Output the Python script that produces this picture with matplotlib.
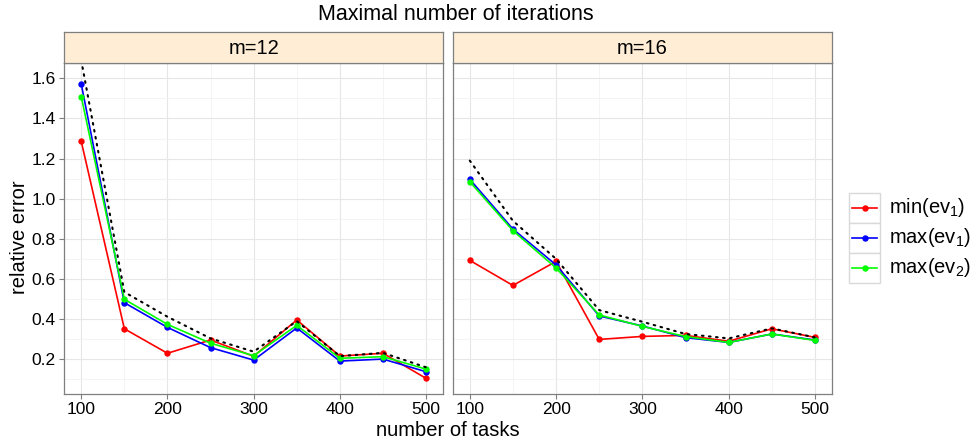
import matplotlib
matplotlib.use("Agg")
import matplotlib.pyplot as plt
from matplotlib.patches import Rectangle
from matplotlib.lines import Line2D

plt.rcParams['font.family'] = ['Liberation Sans', 'DejaVu Sans']
plt.rcParams['mathtext.fontset'] = 'custom'
plt.rcParams['mathtext.rm'] = 'Liberation Sans'
plt.rcParams['mathtext.it'] = 'Liberation Sans:italic'

# number of tasks on the x axis
tasks = [100, 150, 200, 250, 300, 350, 400, 450, 500]
panels = ["m=12", "m=16"]

# relative error, m=12
m12_min_ev1 = [1.286, 0.352, 0.230, 0.296, 0.215, 0.396, 0.216, 0.230, 0.105]
m12_max_ev1 = [1.572, 0.482, 0.359, 0.258, 0.196, 0.356, 0.191, 0.201, 0.138]
m12_max_ev2 = [1.509, 0.499, 0.374, 0.280, 0.218, 0.369, 0.205, 0.213, 0.151]
m12_bound = [1.69, 0.535, 0.412, 0.304, 0.238, 0.390, 0.216, 0.232, 0.160]

# relative error, m=16
m16_min_ev1 = [0.693, 0.568, 0.688, 0.299, 0.314, 0.319, 0.290, 0.352, 0.309]
m16_max_ev1 = [1.097, 0.849, 0.670, 0.416, 0.366, 0.308, 0.284, 0.326, 0.296]
m16_max_ev2 = [1.085, 0.841, 0.655, 0.421, 0.364, 0.313, 0.284, 0.326, 0.294]
m16_bound = [1.19, 0.89, 0.70, 0.445, 0.387, 0.326, 0.304, 0.354, 0.309]

series_labels = [r"min(ev$_1$)", r"max(ev$_1$)", r"max(ev$_2$)"]
series_colors = ["#FF0000", "#0000FF", "#00FF00"]

panel_data = [
    (m12_min_ev1, m12_max_ev1, m12_max_ev2, m12_bound),
    (m16_min_ev1, m16_max_ev1, m16_max_ev2, m16_bound),
]

W, H = 975, 443
fig = plt.figure(figsize=(W / 100, H / 100), dpi=100)


def fbox(x0, y0, x1, y1):
    # pixel box (top-left origin) -> figure fraction [l, b, w, h]
    return [x0 / W, (H - y1) / H, (x1 - x0) / W, (y1 - y0) / H]


panel_px = [(64, 443.3), (452.5, 832.3)]
top_px, bot_px, strip_top = 62.7, 394.0, 31.7
border = "#7F7F7F"

axes = []
for i, ((x0, x1), name, data) in enumerate(zip(panel_px, panels, panel_data)):
    ax = fig.add_axes(fbox(x0, top_px, x1, bot_px))
    axes.append(ax)
    ax.set_xlim(80, 520)
    ax.set_ylim(0.027, 1.678)
    ax.set_xticks([100, 200, 300, 400, 500])
    ax.set_xticks([150, 250, 350, 450], minor=True)
    ax.set_yticks([0.2, 0.4, 0.6, 0.8, 1.0, 1.2, 1.4, 1.6])
    ax.set_yticks([0.1, 0.3, 0.5, 0.7, 0.9, 1.1, 1.3, 1.5], minor=True)
    ax.grid(which="major", color="#E6E6E6", lw=0.8)
    ax.grid(which="minor", color="#F3F3F3", lw=0.6)
    ax.set_axisbelow(True)
    for s in ax.spines.values():
        s.set_color(border)
        s.set_linewidth(0.9)
    ax.tick_params(which="major", length=3.5, width=0.8, color=border,
                   labelsize=12.5, labelcolor="black", pad=2.5)
    ax.tick_params(which="minor", length=0)
    if i == 1:
        ax.tick_params(axis="y", which="both", left=False, labelleft=False)
    else:
        ax.set_yticklabels(["0.2", "0.4", "0.6", "0.8", "1.0", "1.2", "1.4", "1.6"])

    for vals, col in zip(data[:3], series_colors):
        ax.plot(tasks, vals, color=col, lw=1.2, marker="o", ms=4.6,
                markeredgewidth=0, zorder=3)
    ax.plot(tasks, data[3], color="black", lw=1.5, linestyle=(0, (0.8, 2.6)),
            dash_capstyle="round", zorder=4)

    # facet strip
    sax = fig.add_axes(fbox(x0, strip_top, x1, top_px))
    sax.set_xticks([])
    sax.set_yticks([])
    sax.set_facecolor("#FFEED5")
    for s in sax.spines.values():
        s.set_color(border)
        s.set_linewidth(0.9)
    sax.text(0.5, 0.47, name, ha="center", va="center", fontsize=14.5,
             transform=sax.transAxes)

fig.text(456 / W, 1 - 14.5 / H, "Maximal number of iterations", ha="center",
         va="center", fontsize=15.5)
fig.text(448 / W, 1 - 430 / H, "number of tasks", ha="center", va="center",
         fontsize=14.5)
fig.text(20 / W, 1 - 237 / H, "relative error", ha="center", va="center",
         rotation=90, fontsize=14.5)

# legend keys
lax = fig.add_axes(fbox(849, 192.5, 880, 282.5))
lax.set_xlim(0, 1)
lax.set_ylim(0, 3)
lax.axis("off")
for k, (lab, col) in enumerate(zip(series_labels, series_colors)):
    yk = 2 - k
    lax.add_patch(Rectangle((0, yk), 1, 1, facecolor="white", edgecolor="#D9D9D9",
                            lw=1.0, clip_on=False))
    lax.add_line(Line2D([0.1, 0.9], [yk + 0.5, yk + 0.5], color=col, lw=1.2))
    lax.add_line(Line2D([0.5], [yk + 0.5], color=col, marker="o", ms=4.6,
                        markeredgewidth=0))
    fig.text(889 / W, 1 - (207.5 + 30 * k) / H, lab, ha="left", va="center",
             fontsize=14.5)

fig.savefig("out.png", dpi=100)
